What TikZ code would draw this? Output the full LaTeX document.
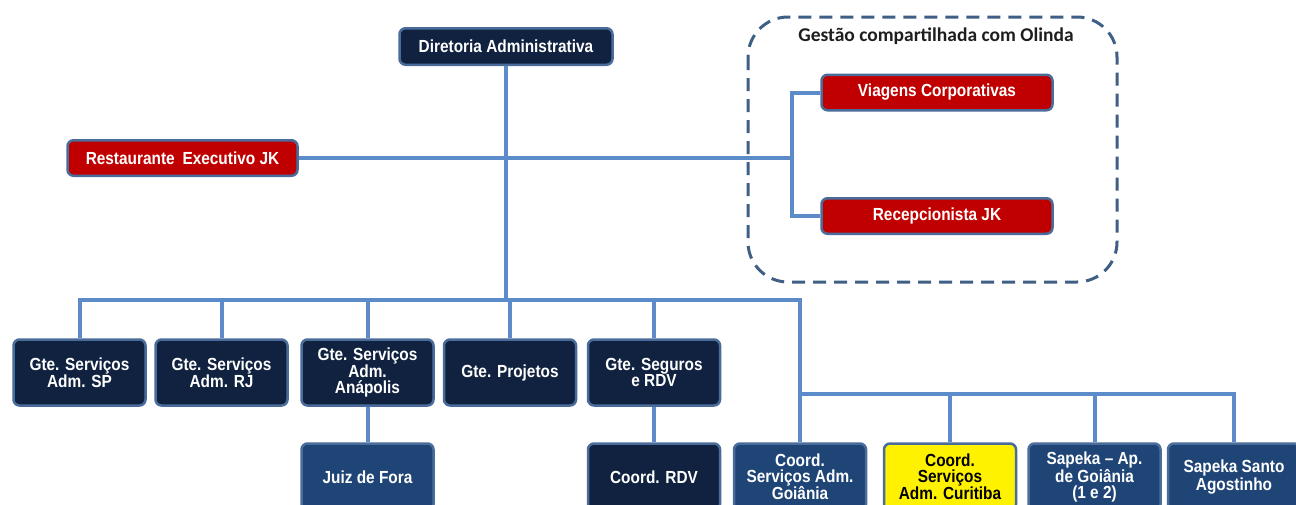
\documentclass[tikz,border=0pt]{standalone}
\usepackage{fontspec}
\setmainfont{Liberation Sans}[FakeStretch=0.88]
\newfontfamily\titlefont{Carlito}
\definecolor{navy}{HTML}{10223F}
\definecolor{midblue}{HTML}{1F4476}
\definecolor{boxedge}{HTML}{4A6C9A}
\definecolor{redfill}{HTML}{C00000}
\definecolor{connblue}{HTML}{5B8BC9}
\definecolor{dashblue}{HTML}{3F5F85}
\definecolor{titlegray}{HTML}{1E1E1E}
\tikzset{
  orgbox/.style={rounded corners=6pt, draw=boxedge, line width=2.5pt, text=white,
    font=\fontsize{17.5}{15.5}\selectfont\bfseries, align=center, inner sep=0pt},
  topbox/.style={orgbox, fill=navy, minimum width=213pt, minimum height=36.5pt},
  redbox/.style={orgbox, fill=redfill, minimum width=231pt, minimum height=35.5pt},
  rowbox/.style={orgbox, fill=navy, minimum width=132pt, minimum height=66pt},
  lowbox/.style={orgbox, fill=midblue, minimum width=132pt, minimum height=67pt},
  yelbox/.style={orgbox, fill=yellow, text=black, minimum width=132pt, minimum height=67pt},
  conn/.style={draw=connblue, line width=4pt},
  groupbox/.style={draw=dashblue, line width=3pt, dash pattern=on 13pt off 8pt, rounded corners=40pt}
}
\begin{document}
\begin{tikzpicture}[x=1pt,y=-1pt]
\useasboundingbox (0,0) rectangle (1296,504);
\fill[white] (0,0) rectangle (1296,504);
% group frame
\draw[groupbox] (748,17) rectangle (1117,282);
\node[font=\titlefont\fontsize{19.5}{19.5}\selectfont\bfseries, text=titlegray] (gtitle) at (936,36) {Gestão compartilhada com Olinda};
% junctions
\coordinate (j0) at (506,300);
\coordinate (j2) at (802,394);
\coordinate (k) at (792,158);
% nodes
\node[topbox] (dir) at (506,46.5) {Diretoria Administrativa};
\node[redbox, minimum width=230pt] (rest) at (182.5,158) {Restaurante\;\,Executivo JK};
\node[redbox] (via) at (937,92.5) {Viagens Corporativas};
\node[redbox] (rec) at (937,216) {Recepcionista JK};
\node[rowbox] (sp) at (79.5,372.5) {Gte. Serviços\\Adm. SP};
\node[rowbox] (rj) at (221.5,372.5) {Gte. Serviços\\Adm. RJ};
\node[rowbox] (ana) at (367.5,372.5) {Gte. Serviços\\Adm.\\Anápolis};
\node[rowbox] (proj) at (510,372.5) {Gte. Projetos};
\node[rowbox] (seg) at (654,372.5) {Gte. Seguros\\e RDV};
\node[lowbox] (juiz) at (367.5,477) {Juiz de Fora};
\node[rowbox, minimum height=67pt] (rdv) at (654,477) {Coord. RDV};
\node[lowbox] (goi) at (800,477) {Coord.\\Serviços Adm.\\Goiânia};
\node[yelbox] (cur) at (950,477) {Coord.\\Serviços\\Adm. Curitiba};
\node[lowbox] (sap) at (1094.5,477) {Sapeka – Ap.\\de Goiânia\\(1 e 2)};
\node[lowbox] (san) at (1234,477) {Sapeka Santo\\Agostinho};
% connectors
\draw[conn] (dir.south) -- (j0);
\draw[conn] (j0) -| (sp.north);
\draw[conn] (j0) -| (rj.north);
\draw[conn] (j0) -| (ana.north);
\draw[conn] (j0) -| (proj.north);
\draw[conn] (j0) -| (seg.north);
\draw[conn] (j0) -| (goi.north);
\draw[conn] (j2) -| (cur.north);
\draw[conn] (j2) -| (sap.north);
\draw[conn] (j2) -| (san.north);
\draw[conn] (ana.south) -- (juiz.north);
\draw[conn] (seg.south) -- (rdv.north);
\draw[conn] (rest.east) -- (k);
\draw[conn] (via.west) -| (k) |- (rec.west);
\end{tikzpicture}
\end{document}
